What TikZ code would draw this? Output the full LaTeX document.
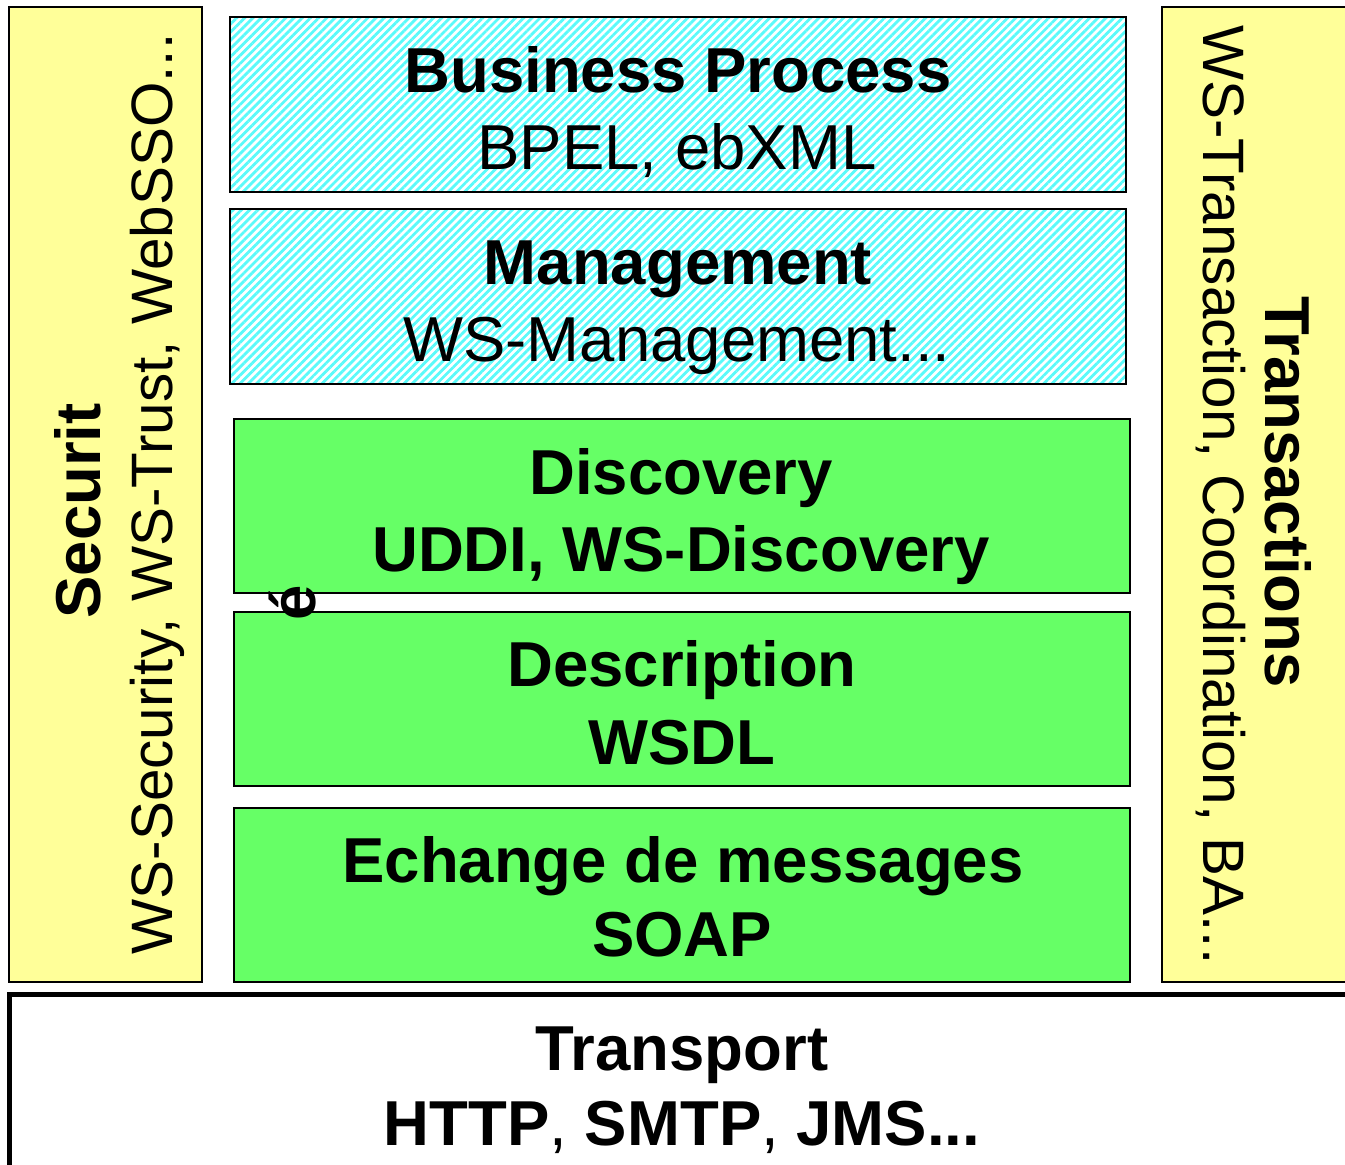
\documentclass[tikz,border=0pt]{standalone}
\usepackage{fontspec}
\setmainfont{Liberation Sans}
\usetikzlibrary{patterns.meta}
\definecolor{sideyellow}{RGB}{255,255,153}
\definecolor{layergreen}{RGB}{102,255,102}
\definecolor{hatchcyan}{RGB}{90,250,250}
\begin{document}
\begin{tikzpicture}[x=0.5pt,y=-0.5pt,
  box/.style={draw=black,line width=1pt},
  sidebox/.style={box,fill=sideyellow},
  greenbox/.style={box,fill=layergreen},
  hatchbox/.style={box,pattern={Lines[angle=45,distance=2.9pt,line width=1.4pt]},pattern color=hatchcyan},
  bigb/.style={anchor=base,inner sep=0pt,font=\fontsize{31.75}{38}\selectfont\bfseries},
  bigr/.style={anchor=base,inner sep=0pt,font=\fontsize{31.75}{38}\selectfont},
  sider/.style={anchor=base,inner sep=0pt,font=\fontsize{29.2}{35}\selectfont},
]
\useasboundingbox (0,0) rectangle (1345,1165);
\clip (0,0) rectangle (1345,1165);
% side boxes
\path[sidebox] (9,7) rectangle (202,982);
\path[sidebox] (1162,7) rectangle (1400,982);
% hatched layers
\path[hatchbox] (230,17) rectangle (1126,192);
\path[hatchbox] (230,209) rectangle (1126,384);
% green layers
\path[greenbox] (234,419) rectangle (1130,593);
\path[greenbox] (234,612) rectangle (1130,786);
\path[greenbox] (234,808) rectangle (1130,982);
% transport
\draw[line width=2.5pt,fill=white] (9.5,994.5) rectangle (1400,1200);
% texts
\node[bigb] (bp1) at (678,93) {Business Process};
\node[bigr] (bp2) at (677,170) {BPEL, ebXML};
\node[bigb] (mg1) at (678,285) {Management};
\node[bigr] (mg2) at (677,362) {WS-Management...};
\node[bigb] (di1) at (681,495) {Discovery};
\node[bigb] (di2) at (681,572) {UDDI, WS-Discovery};
\node[bigb] (de1) at (682,687) {Description};
\node[bigb] (de2) at (682,765) {WSDL};
\node[bigb] (ec1) at (683,883) {Echange de messages};
\node[bigb] (ec2) at (682,957) {SOAP};
\node[bigb] (tr1) at (682,1070) {Transport};
\node[bigb] (tr2) at (682,1145) {HTTP{\mdseries ,} SMTP{\mdseries ,} JMS...};
% left side
\node[bigb,rotate=90] (sec1) at (100,511) {Securit};
\node[sider,rotate=90] (sec2) at (172,494) {WS-Security, WS-Trust, WebSSO...};
\node[bigb,rotate=90] (sece) at (315,603) {é};
% right side
\node[bigb,rotate=-90] (tx1) at (1265,492) {Transactions};
\node[sider,rotate=-90] (tx2) at (1203,495) {WS-Transaction, Coordination, BA...};
\end{tikzpicture}
\end{document}
